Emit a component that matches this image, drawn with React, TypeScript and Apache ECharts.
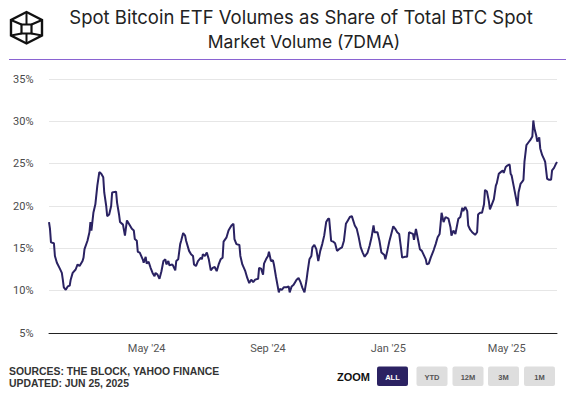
import React, { useEffect, useRef } from 'react';
import * as echarts from 'echarts';

const dates = [
  '2024-01-23','2024-01-24','2024-01-25','2024-01-28','2024-01-29','2024-01-31','2024-02-03','2024-02-05','2024-02-06','2024-02-07',
  '2024-02-09','2024-02-11','2024-02-13','2024-02-14','2024-02-16','2024-02-19','2024-02-21','2024-02-23','2024-02-26','2024-02-27',
  '2024-02-28','2024-03-02','2024-03-04','2024-03-05','2024-03-06','2024-03-08','2024-03-10','2024-03-12','2024-03-14','2024-03-16',
  '2024-03-18','2024-03-19','2024-03-21','2024-03-22','2024-03-24','2024-03-26','2024-03-27','2024-03-31','2024-04-01','2024-04-03',
  '2024-04-04','2024-04-07','2024-04-09','2024-04-11','2024-04-13','2024-04-16','2024-04-18','2024-04-19','2024-04-21','2024-04-22',
  '2024-04-24','2024-04-27','2024-04-28','2024-04-30','2024-05-01','2024-05-03','2024-05-05','2024-05-07','2024-05-09','2024-05-10',
  '2024-05-12','2024-05-14','2024-05-16','2024-05-18','2024-05-20','2024-05-21','2024-05-23','2024-05-24','2024-05-27','2024-05-28',
  '2024-05-30','2024-05-31','2024-06-02','2024-06-04','2024-06-05','2024-06-07','2024-06-09','2024-06-10','2024-06-13','2024-06-15',
  '2024-06-17','2024-06-18','2024-06-20','2024-06-22','2024-06-25','2024-06-26','2024-06-27','2024-06-29','2024-07-01','2024-07-03',
  '2024-07-05','2024-07-07','2024-07-09','2024-07-11','2024-07-13','2024-07-15','2024-07-17','2024-07-18','2024-07-21','2024-07-23',
  '2024-07-24','2024-07-26','2024-07-28','2024-07-29','2024-07-31','2024-08-03','2024-08-04','2024-08-06','2024-08-09','2024-08-11',
  '2024-08-13','2024-08-15','2024-08-17','2024-08-19','2024-08-22','2024-08-23','2024-08-25','2024-08-27','2024-08-28','2024-08-30',
  '2024-09-01','2024-09-02','2024-09-04','2024-09-06','2024-09-07','2024-09-09','2024-09-12','2024-09-13','2024-09-15','2024-09-17',
  '2024-09-20','2024-09-22','2024-09-23','2024-09-25','2024-09-27','2024-09-30','2024-10-02','2024-10-04','2024-10-06','2024-10-08',
  '2024-10-10','2024-10-11','2024-10-13','2024-10-15','2024-10-16','2024-10-18','2024-10-20','2024-10-22','2024-10-24','2024-10-26',
  '2024-10-28','2024-10-30','2024-11-01','2024-11-02','2024-11-04','2024-11-06','2024-11-08','2024-11-10','2024-11-12','2024-11-15',
  '2024-11-17','2024-11-19','2024-11-21','2024-11-23','2024-11-25','2024-11-28','2024-11-30','2024-12-02','2024-12-04','2024-12-06',
  '2024-12-08','2024-12-11','2024-12-13','2024-12-15','2024-12-17','2024-12-18','2024-12-21','2024-12-23','2024-12-25','2024-12-28',
  '2024-12-29','2024-12-31','2025-01-02','2025-01-04','2025-01-06','2025-01-08','2025-01-10','2025-01-12','2025-01-14','2025-01-15',
  '2025-01-18','2025-01-20','2025-01-22','2025-01-24','2025-01-26','2025-01-27','2025-01-29','2025-01-31','2025-02-02','2025-02-04',
  '2025-02-06','2025-02-08','2025-02-09','2025-02-11','2025-02-13','2025-02-15','2025-02-16','2025-02-18','2025-02-20','2025-02-22',
  '2025-02-23','2025-02-24','2025-02-26','2025-02-28','2025-03-03','2025-03-05','2025-03-06','2025-03-08','2025-03-10','2025-03-12',
  '2025-03-13','2025-03-15','2025-03-17','2025-03-18','2025-03-20','2025-03-22','2025-03-23','2025-03-25','2025-03-27','2025-03-30',
  '2025-04-01','2025-04-02','2025-04-04','2025-04-06','2025-04-08','2025-04-09','2025-04-11','2025-04-13','2025-04-14','2025-04-16',
  '2025-04-18','2025-04-20','2025-04-21','2025-04-23','2025-04-25','2025-04-27','2025-04-28','2025-04-30','2025-05-02','2025-05-04',
  '2025-05-05','2025-05-06','2025-05-08','2025-05-10','2025-05-12','2025-05-13','2025-05-15','2025-05-17','2025-05-18','2025-05-19',
  '2025-05-21','2025-05-23','2025-05-25','2025-05-27','2025-05-28','2025-05-29','2025-05-31','2025-06-01','2025-06-03','2025-06-04',
  '2025-06-06','2025-06-08','2025-06-09','2025-06-11','2025-06-13','2025-06-15','2025-06-16','2025-06-18','2025-06-20','2025-06-21',
];

const etfShare = [
  18.1,17.3,15.7,15.6,14.1,13.3,12.6,12.1,11.3,10.4,
  10.1,10.5,10.6,11.3,12.1,12.5,13.1,12.9,13.5,13.9,
  14.9,15.9,16.9,18.1,17.1,19.2,20.2,22.4,24.0,23.8,
  23.4,21.6,20.0,18.8,19.0,20.0,21.6,21.7,20.4,19.0,
  18.1,17.8,16.5,18.3,17.9,17.3,17.1,16.1,15.9,14.6,
  14.5,13.7,13.3,14.0,13.2,13.4,12.7,12.1,11.7,12.1,
  11.9,11.4,12.3,13.5,13.7,13.1,13.5,13.0,13.1,12.9,
  12.4,13.5,13.7,15.5,15.9,16.8,16.5,15.9,14.7,14.3,
  14.1,13.1,12.9,13.5,13.9,13.7,14.3,14.1,14.5,13.7,
  12.4,12.7,12.8,12.3,13.1,13.7,13.9,15.8,16.3,17.1,
  17.3,17.7,17.9,16.1,15.5,15.4,14.1,13.1,12.3,11.5,
  10.9,11.3,11.0,11.3,11.4,12.7,12.6,11.9,13.2,13.7,
  14.1,14.6,13.5,13.6,13.1,11.7,9.8,10.2,10.1,10.4,
  10.4,10.5,9.8,10.5,10.7,11.3,11.5,11.0,10.3,9.8,
  11.2,12.1,13.7,14.1,15.1,15.4,14.9,13.5,14.7,15.5,
  16.5,18.1,18.5,18.5,15.9,15.8,15.6,14.7,14.9,15.1,
  15.9,17.9,18.3,18.7,18.8,17.7,17.3,16.3,15.1,14.5,
  14.0,14.5,15.3,16.3,17.7,16.9,16.9,15.9,14.5,14.2,
  13.7,14.7,15.8,16.7,17.6,17.3,16.9,16.7,14.9,13.9,
  14.0,14.0,16.9,16.8,16.7,16.0,17.3,16.1,14.9,14.7,
  14.2,13.7,13.1,13.2,13.9,14.5,14.8,15.5,16.3,16.7,
  17.9,19.2,18.1,18.7,18.5,17.5,16.5,17.1,16.7,17.9,
  18.5,18.7,19.8,19.4,19.9,19.4,17.7,17.2,16.9,16.6,
  16.9,19.0,19.2,19.2,20.2,21.9,21.7,20.5,19.6,20.2,
  20.8,22.4,22.7,23.8,24.0,24.2,23.9,24.6,24.8,24.9,
  23.8,23.6,22.4,21.2,20.0,21.6,22.6,22.9,23.1,25.2,
  27.2,27.5,27.8,28.2,30.1,29.2,28.3,27.6,28.1,26.8,
  26.0,25.5,25.2,23.2,23.1,23.1,24.2,24.5,25.0,25.2,
];

const xLabelDates = ['2024-05-01', '2024-09-01', '2025-01-01', '2025-05-01'];
const monthNames = ['Jan', 'Feb', 'Mar', 'Apr', 'May', 'Jun', 'Jul', 'Aug', 'Sep', 'Oct', 'Nov', 'Dec'];
const zoomButtons = ['ALL', 'YTD', '12M', '3M', '1M'];
const titleLines = ['Spot Bitcoin ETF Volumes as Share of Total BTC Spot', 'Market Volume (7DMA)'];
const footerLines = ['SOURCES: THE BLOCK, YAHOO FINANCE', 'UPDATED: JUN 25, 2025'];

const toTs = (s: string) => {
  const [y, m, d] = s.split('-').map(Number);
  return Date.UTC(y, m - 1, d);
};

export default function App() {
  const ref = useRef<HTMLDivElement>(null);
  useEffect(() => {
    document.body.style.margin = '0';
    const chart = echarts.init(ref.current as HTMLDivElement, null, { renderer: 'svg' });
    const seriesData = dates.map((d, i) => [toTs(d), etfShare[i]]);

    const btnX = [377, 416.5, 452.5, 488, 524];
    const btnW = 31;
    const ink = '#111';
    const graphics: any[] = [
      // logo
      {
        type: 'polygon',
        shape: { points: [[26.5, 12], [42, 20], [42, 35.5], [26.5, 43.5], [11, 35.5], [11, 20]] },
        style: { fill: 'none', stroke: ink, lineWidth: 2.4, lineJoin: 'miter' },
      },
      {
        type: 'rect',
        shape: { x: 21.5, y: 24.5, width: 10, height: 9 },
        style: { fill: 'none', stroke: ink, lineWidth: 2.2 },
      },
      { type: 'line', shape: { x1: 11, y1: 20, x2: 21.5, y2: 24.5 }, style: { stroke: ink, lineWidth: 2.2 } },
      { type: 'line', shape: { x1: 42, y1: 20, x2: 31.5, y2: 24.5 }, style: { stroke: ink, lineWidth: 2.2 } },
      { type: 'line', shape: { x1: 11, y1: 35.5, x2: 21.5, y2: 33.5 }, style: { stroke: ink, lineWidth: 2.2 } },
      { type: 'line', shape: { x1: 42, y1: 35.5, x2: 31.5, y2: 33.5 }, style: { stroke: ink, lineWidth: 2.2 } },
      { type: 'line', shape: { x1: 26.5, y1: 12, x2: 26.5, y2: 24.5 }, style: { stroke: ink, lineWidth: 2 } },
      { type: 'line', shape: { x1: 26.5, y1: 33.5, x2: 26.5, y2: 43.5 }, style: { stroke: ink, lineWidth: 2 } },
      // title
      {
        type: 'text', x: 301, y: 17,
        style: { text: titleLines[0], fill: '#222', font: '400 18.5px Inter', textAlign: 'center', textVerticalAlign: 'middle', align: 'center', verticalAlign: 'middle' },
      },
      {
        type: 'text', x: 304, y: 41,
        style: { text: titleLines[1], fill: '#222', font: '400 17.5px Inter', textAlign: 'center', textVerticalAlign: 'middle', align: 'center', verticalAlign: 'middle' },
      },
      // header divider
      { type: 'line', shape: { x1: 9, y1: 59.5, x2: 566, y2: 59.5 }, style: { stroke: '#8a63d2', lineWidth: 1 } },
      // footer
      {
        type: 'text', x: 9, y: 371.5,
        style: { text: footerLines[0], fill: '#333', font: 'bold 10.4px "Liberation Sans", Arial', textAlign: 'left', textVerticalAlign: 'middle', align: 'left', verticalAlign: 'middle' },
      },
      {
        type: 'text', x: 9, y: 383,
        style: { text: footerLines[1], fill: '#333', font: 'bold 10.4px "Liberation Sans", Arial', textAlign: 'left', textVerticalAlign: 'middle', align: 'left', verticalAlign: 'middle' },
      },
      {
        type: 'text', x: 337, y: 376.5,
        style: { text: 'ZOOM', fill: ink, font: 'bold 11px "Liberation Sans", Arial', textAlign: 'left', textVerticalAlign: 'middle', align: 'left', verticalAlign: 'middle' },
      },
    ];
    zoomButtons.forEach((b, i) => {
      const active = i === 0;
      graphics.push({
        type: 'rect',
        shape: { x: btnX[i], y: 366.5, width: btnW, height: 19.5, r: 2 },
        style: { fill: active ? '#2b2262' : '#dedede' },
      });
      graphics.push({
        type: 'text', x: btnX[i] + btnW / 2, y: 377,
        style: { text: b, fill: active ? '#fff' : '#555', font: 'bold 7.5px "Liberation Sans", Arial', textAlign: 'center', textVerticalAlign: 'middle', align: 'center', verticalAlign: 'middle' },
      });
    });

    const option: any = {
      animation: false,
      backgroundColor: '#fff',
      grid: { left: 49, right: 18, top: 79, bottom: 64, outerBoundsMode: 'none', containLabel: false },
      xAxis: {
        type: 'value',
        min: toTs(dates[0]),
        max: toTs(dates[dates.length - 1]),
        axisLine: { show: true, lineStyle: { color: '#222', width: 1 } },
        axisTick: { show: false },
        splitLine: { show: false },
        axisLabel: {
          customValues: xLabelDates.map(toTs),
          margin: 10,
          color: '#555',
          fontSize: 11,
          fontFamily: 'Roboto',
          formatter: (v: number) => {
            const d = new Date(v);
            return monthNames[d.getUTCMonth()] + " '" + String(d.getUTCFullYear()).slice(2);
          },
        },
      },
      yAxis: {
        type: 'value',
        min: 5,
        max: 35,
        interval: 5,
        axisLine: { show: false },
        axisTick: { show: false },
        splitLine: { show: true, lineStyle: { color: '#e6e6e6', width: 1 } },
        axisLabel: { formatter: '{value}%', color: '#4a4a4a', fontSize: 11, fontFamily: 'Roboto', margin: 15.5 },
      },
      series: [
        {
          type: 'line',
          data: seriesData,
          showSymbol: false,
          symbol: 'none',
          lineStyle: { color: '#2a2262', width: 2 },
          z: 3,
        },
      ],
      graphic: graphics,
    };
    chart.setOption(option);
    return () => chart.dispose();
  }, []);
  return <div ref={ref} style={{ width: 575, height: 397 }} />;
}
